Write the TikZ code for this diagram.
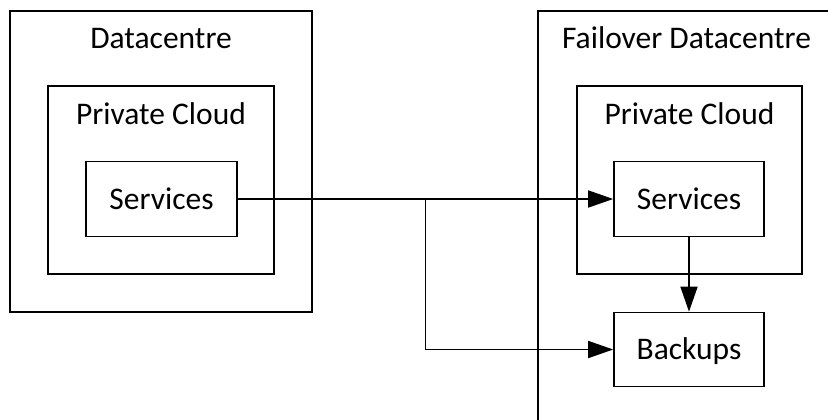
\documentclass[tikz,border=0pt]{standalone}
\usepackage{fontspec}
\setmainfont{Carlito}
\usepackage{tikz}
\usetikzlibrary{arrows.meta, calc, positioning}

\begin{document}
\begin{tikzpicture}[x=1bp, y=-1bp, >={Triangle[length=25bp,width=17bp]},
                    line width=1.6bp,
                    every node/.style={font=\fontsize{31.5bp}{38bp}\selectfont}]
  \tikzstyle{box}=[draw=black, rectangle, inner sep=0pt, text height=20bp, text depth=0pt]
  \tikzstyle{title}=[anchor=base, inner sep=0pt]

  \path[use as bounding box, clip] (0,0) rectangle (828,419);

  % datacentre
  \node[box, minimum width=302bp, minimum height=301bp] (dc)      at (161,161.5) {};
  \node[box, minimum width=226bp, minimum height=188bp] (dcCloud) at (161,180) {};
  \node[box, minimum width=151bp, minimum height=75bp]  (dcSrv)   at (161.5,199) {Services};
  \node[title] (dcT)      at ([yshift=-38bp]dc.north)      {Datacentre};
  \node[title] (dcCloudT) at ([yshift=-39bp]dcCloud.north) {Private Cloud};

  % failover datacentre
  \node[box, minimum width=297bp, minimum height=460bp] (fo)      at (686.5,241) {};
  \node[box, minimum width=225bp, minimum height=188bp] (foCloud) at (689.5,180) {};
  \node[box, minimum width=150bp, minimum height=75bp]  (foSrv)   at (689,199) {Services};
  \node[box, minimum width=150bp, minimum height=74bp]  (backups) at (689,349.5) {Backups};
  \node[title] (foT)      at ([yshift=-38bp]fo.north)      {Failover Datacentre};
  \node[title] (foCloudT) at ([yshift=-39bp]foCloud.north) {Private Cloud};

  \coordinate (split) at ($(dcSrv.east)!0.5!(foSrv.west)$);

  \draw[->] (dcSrv.east) -- (foSrv.west);
  \draw[->] (split) |- (backups.west);
  \draw[->] (foSrv) -- (backups);
\end{tikzpicture}
\end{document}
